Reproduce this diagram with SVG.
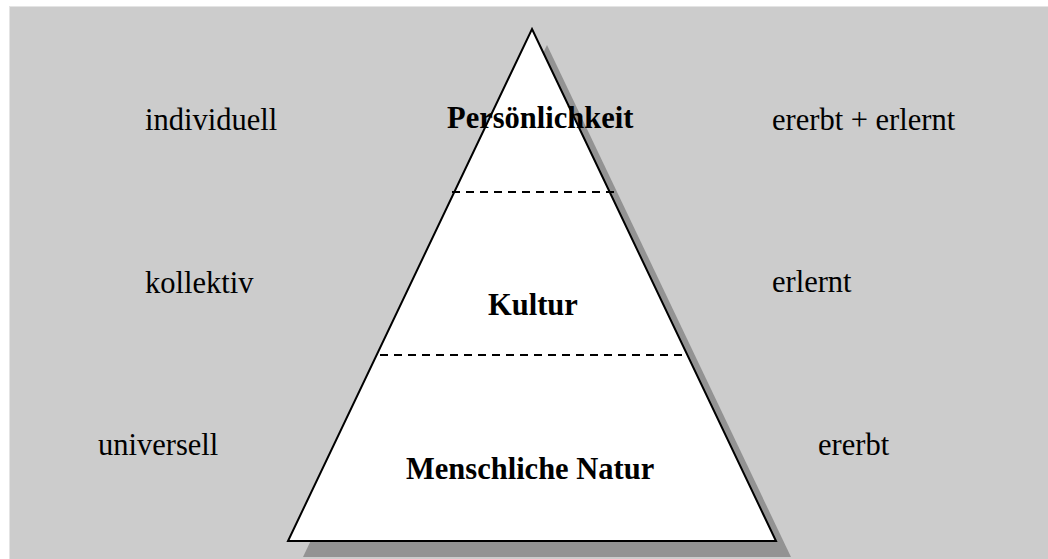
<svg xmlns="http://www.w3.org/2000/svg" width="1048" height="559" viewBox="0 0 1048 559">
<style>
.side{font-family:"Liberation Serif","Times New Roman",serif;font-size:30.5px;fill:#000}
.lvl{font-family:"Liberation Serif","Times New Roman",serif;font-size:30.5px;font-weight:bold;fill:#000}
.dash{stroke:#000;stroke-width:2.2;stroke-dasharray:8 6;fill:none}
</style>
<rect x="0" y="0" width="1048" height="559" fill="#ffffff"/>
<rect x="9.5" y="6.5" width="1045" height="560" fill="#cccccc" stroke="#e4e4e4" stroke-width="1"/>
<g id="pyramid">
<polygon points="547,45 791,557 303,557" fill="#939393"/>
<polygon points="532,29 776,541 288,541" fill="#ffffff" stroke="#000" stroke-width="2" stroke-linejoin="miter"/>
</g>
<g id="connectors">
<line class="dash" x1="452" y1="192" x2="614" y2="192"/>
<line class="dash" x1="380" y1="355" x2="687" y2="355"/>
</g>
<g id="node-persoenlichkeit"><text class="lvl" x="447" y="128">Persönlichkeit</text></g>
<g id="node-kultur"><text class="lvl" x="488" y="315">Kultur</text></g>
<g id="node-natur"><text class="lvl" x="406" y="479">Menschliche Natur</text></g>
<g id="label-individuell"><text class="side" x="145" y="130">individuell</text></g>
<g id="label-kollektiv"><text class="side" x="145" y="293">kollektiv</text></g>
<g id="label-universell"><text class="side" x="98" y="455">universell</text></g>
<g id="label-ererbt-erlernt"><text class="side" x="772" y="130">ererbt + erlernt</text></g>
<g id="label-erlernt"><text class="side" x="772" y="292">erlernt</text></g>
<g id="label-ererbt"><text class="side" x="818" y="455">ererbt</text></g>
</svg>
